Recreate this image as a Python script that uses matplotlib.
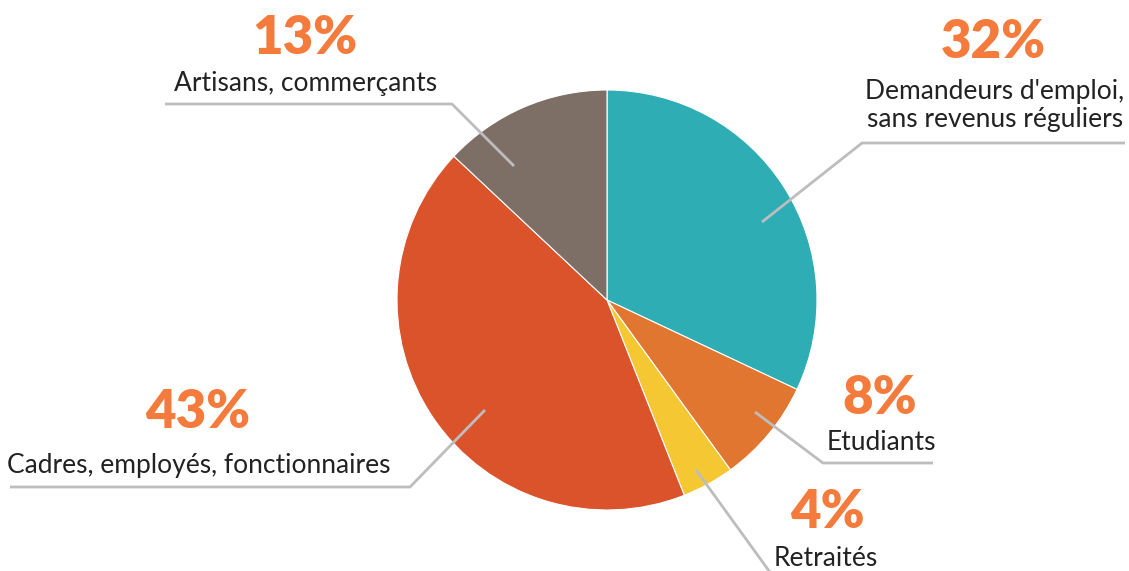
import matplotlib
matplotlib.use("Agg")
import matplotlib.pyplot as plt

# slices, clockwise from the top
labels = ["Demandeurs d'emploi,\nsans revenus réguliers", "Etudiants", "Retraités",
          "Cadres, employés, fonctionnaires", "Artisans, commerçants"]
values = [32, 8, 4, 43, 13]
colours = ["#2EAEB4", "#E0762F", "#F4C733", "#DA532B", "#7D6E66"]

W, H = 1129, 571
CX, CY, R = 607, 300, 210

# label layout in pixel coords (top-left origin): percent centre, label centre
pct_pos = [(993, 42), (880, 398), (827, 512), (198, 413), (305, 38)]
lab_pos = [(995, 106), (881, 442), (826, 558), (199, 465), (306, 84)]
# leader lines: point inside slice -> elbow -> end
leaders = [
    [(762, 222), (862, 143), (1125, 143)],
    [(755, 412), (823, 463), (933, 463)],
    [(696, 470), (772, 575)],
    [(485, 410), (410, 487), (10, 487)],
    [(514, 166), (452, 104), (165, 104)],
]

pct_colour = "#F47B3C"
line_colour = "#BDBDBD"

fig = plt.figure(figsize=(W / 100, H / 100), dpi=100)
ax = fig.add_axes([0, 0, 1, 1])

def fy(y):
    return H - y

ax.pie(values, colors=colours, startangle=90, counterclock=False,
       center=(CX, fy(CY)), radius=R, frame=True,
       wedgeprops=dict(edgecolor="white", linewidth=0.8))
ax.set_xlim(0, W)
ax.set_ylim(0, H)
ax.set_aspect("equal")
ax.axis("off")

for pts in leaders:
    ax.plot([p[0] for p in pts], [fy(p[1]) for p in pts], color=line_colour,
            lw=2, solid_capstyle="butt", zorder=3)

for v, lab, pp, lp in zip(values, labels, pct_pos, lab_pos):
    ax.text(pp[0], fy(pp[1]), f"{v}%", ha="center", va="center",
            fontsize=38, fontweight="heavy", color=pct_colour, family="Lato")
    ax.text(lp[0], fy(lp[1]), lab, ha="center", va="center", fontsize=19,
            color="#222222", family="Lato", linespacing=1.15)

fig.savefig("out.png", dpi=100)
